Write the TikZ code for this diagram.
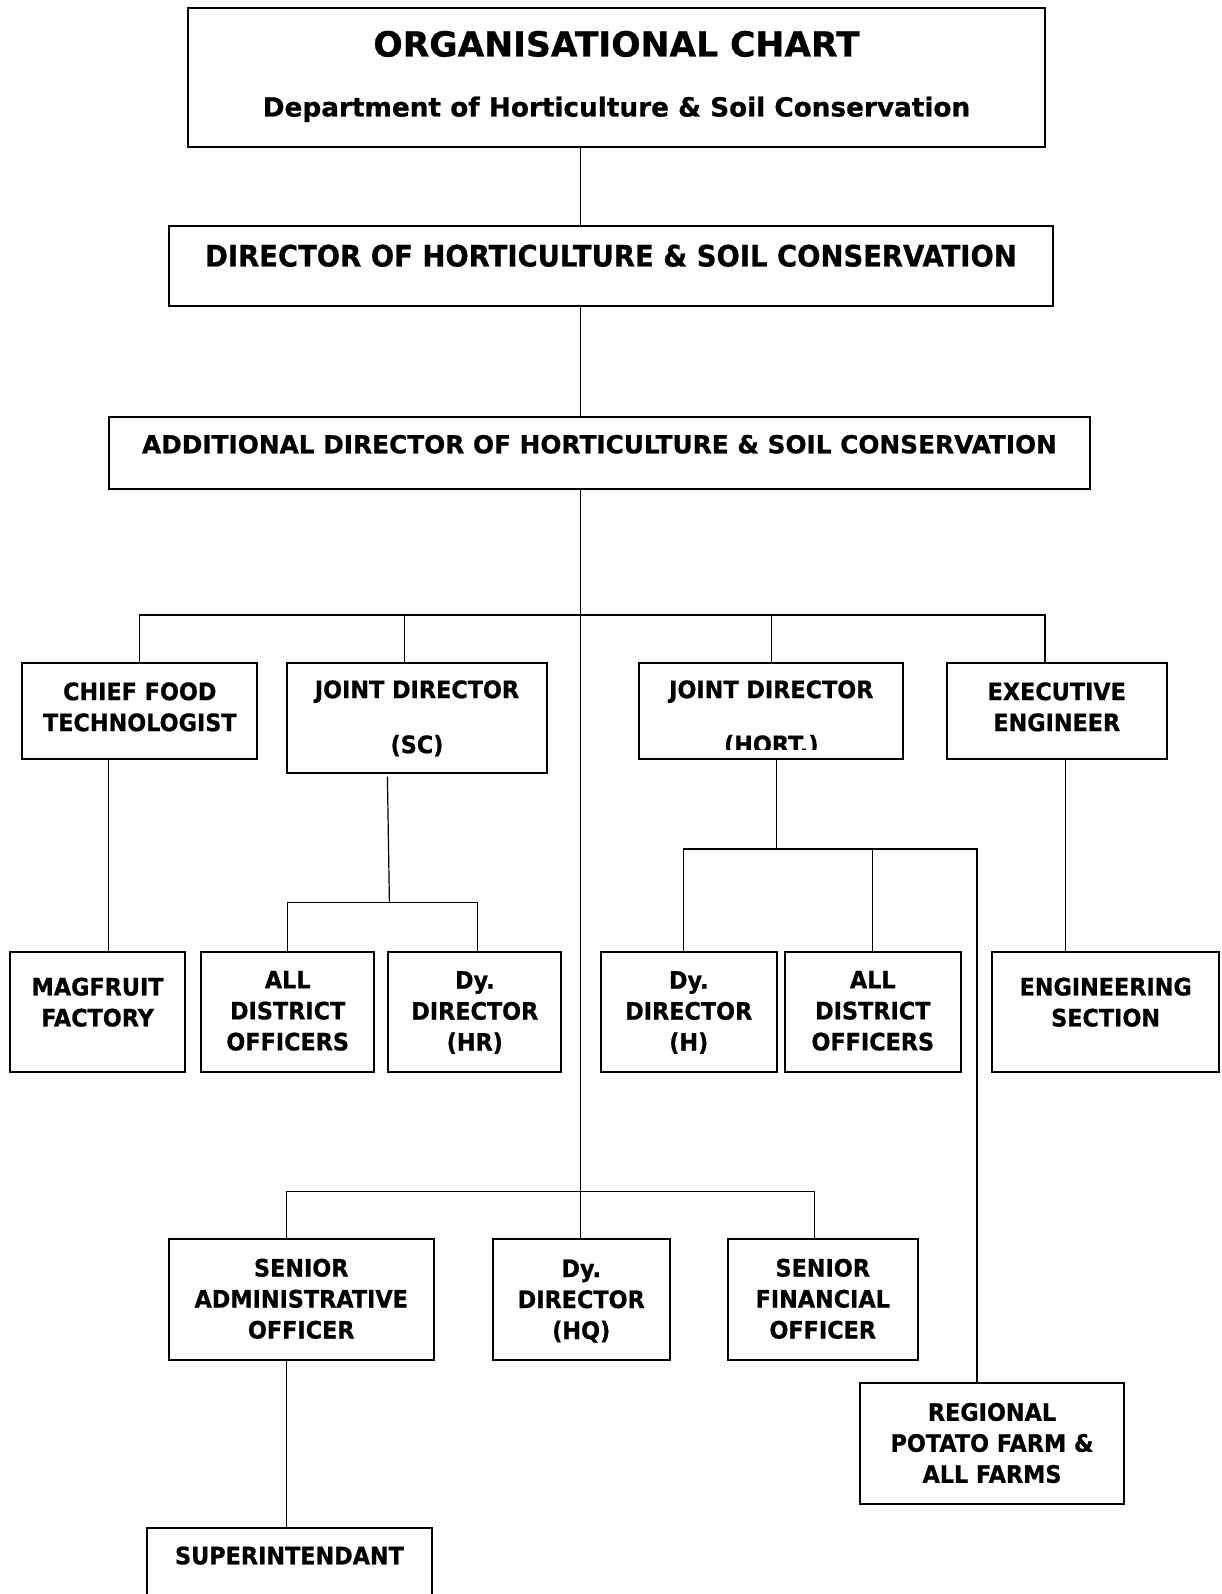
\documentclass[tikz,border=0pt]{standalone}
\usepackage{fontspec}
\setmainfont{DejaVu Sans}[BoldFeatures={FakeBold=0.8}]
\newfontfamily\narrowfont{DejaVu Sans}[FakeStretch=0.93,BoldFeatures={FakeBold=0.8}]

\tikzset{
	post/.style={draw=black,line width=2pt,inner sep=0pt},
	lbl/.style={font=\narrowfont\bfseries\fontsize{24}{31}\selectfont,align=center,inner sep=0pt},
	head/.style={anchor=base,inner sep=0pt},
	wire/.style={line width=1.2pt}
}

\begin{document}
\begin{tikzpicture}[x=1pt,y=-1pt]
\useasboundingbox (0,0) rectangle (1221,1594);

%boxes: name/centre x/centre y/width/height
\foreach \n/\cx/\cy/\w/\h in {title/616.5/78/857/139, dir/611/266.25/884/80.5, add/599.5/453/981/72,
	cft/139.8/711.15/235/95.7, jdsc/417/718/260/109.4, jdh/771.3/711.15/264/95.7, ee/1056.75/711.15/220.5/95.7,
	mag/97.6/1011.7/174.8/120, adoa/287.7/1011.7/172.8/120, ddhr/474.8/1011.7/172.8/120,
	ddh/688.75/1011.7/175.9/120, adob/872.8/1011.7/175.8/120, eng/1105.65/1011.7/226.7/120,
	sao/301.25/1299.65/264.5/120.7, ddhq/581.25/1299.65/177.5/120.7, sfo/822.75/1299.65/190.5/120.7,
	rpf/992/1443.65/264/120.7, sup/289.5/1584.15/285.6/111.7}
{
	\node[post,minimum width=\w pt,minimum height=\h pt](\n) at (\cx,\cy){};
}

%headings
\node[head,font=\bfseries\fontsize{34.5}{40}\selectfont](titletxt) at ([yshift=-49pt]title.north){ORGANISATIONAL CHART};
\node[head,font=\bfseries\fontsize{26.3}{30}\selectfont](subtxt) at ([yshift=-109pt]title.north){Department of Horticulture \& Soil Conservation};
\node[head,font=\narrowfont\bfseries\fontsize{29.5}{36}\selectfont](dirtxt) at ([yshift=-41.5pt]dir.north){DIRECTOR OF HORTICULTURE \& SOIL CONSERVATION};
\node[head,font=\bfseries\fontsize{24.8}{30}\selectfont](addtxt) at ([yshift=-37.3pt]add.north){ADDITIONAL DIRECTOR OF HORTICULTURE \& SOIL CONSERVATION};
\node[head,lbl](suptxt) at ([yshift=-37pt]sup.north){SUPERINTENDANT};

%box texts: name/drop from top/text
\foreach \n/\d/\t in {cft/44.6/{CHIEF FOOD\\TECHNOLOGIST}, jdsc/56/{JOINT DIRECTOR\\[24pt](SC)},
	ee/44.6/{EXECUTIVE\\ENGINEER}, mag/51.5/{MAGFRUIT\\FACTORY}, adoa/60.1/{ALL\\DISTRICT\\OFFICERS},
	ddhr/61.8/{Dy.\\DIRECTOR\\(HR)}, ddh/61.8/{Dy.\\DIRECTOR\\(H)}, adob/60.1/{ALL\\DISTRICT\\OFFICERS},
	eng/51.5/{ENGINEERING\\SECTION}, sao/60.5/{SENIOR\\ADMINISTRATIVE\\OFFICER}, ddhq/62.7/{Dy.\\DIRECTOR\\(HQ)},
	sfo/60.5/{SENIOR\\FINANCIAL\\OFFICER}, rpf/60.7/{REGIONAL\\POTATO FARM \&\\ALL FARMS}}
{
	\node[lbl](\n txt) at ([yshift=-\d pt]\n.north){\t};
}

%second line cut by the box
\begin{scope}
\clip ([yshift=11pt]jdh.south west) rectangle (jdh.north east);
\node[lbl](jdhtxt) at ([yshift=-56pt]jdh.north){JOINT DIRECTOR\\[24pt](HORT.)};
\end{scope}

%main line
\coordinate (spine) at (580.7,0);
\draw[wire](title.south -| spine)--(dir.north -| spine);
\draw[wire](dir.south -| spine)--(add.north -| spine);
\draw[wire](add.south -| spine)--(ddhq.north -| spine);

%first row
\coordinate (busa) at (580.7,615);
\draw[wire](cft.north) |- (busa);
\draw[wire]([xshift=-12.4pt]jdsc.north) |- (busa);
\draw[wire](jdh.north) |- (busa);
\draw[wire]([xshift=-11.75pt]ee.north) |- (busa);

\draw[wire]([xshift=-31pt]cft.south)--([xshift=11.2pt]mag.north);
\draw[wire]([xshift=8.75pt]ee.south)--([xshift=-40.15pt]eng.north);

\coordinate (busb) at (389.4,902.8);
\draw[wire]([shift={(-29.6pt,-3pt)}]jdsc.south)--(busb);
\draw[wire](adoa.north) |- (busb);
\draw[wire]([xshift=3pt]ddhr.north) |- (busb);

\coordinate (busc) at (776.7,849);
\draw[wire]([xshift=5.4pt]jdh.south)--(busc);
\draw[wire]([xshift=-5.55pt]ddh.north) |- (busc);
\draw[wire](adob.north) |- (busc);
\draw[wire]([xshift=-15pt]rpf.north) |- (busc);

%lower row
\coordinate (busd) at (580.7,1191.7);
\draw[wire]([xshift=-14.55pt]sao.north) |- (busd);
\draw[wire]([xshift=-8.35pt]sfo.north) |- (busd);
\draw[wire]([xshift=-14.55pt]sao.south)--([xshift=-2.8pt]sup.north);
\end{tikzpicture}
\end{document}
